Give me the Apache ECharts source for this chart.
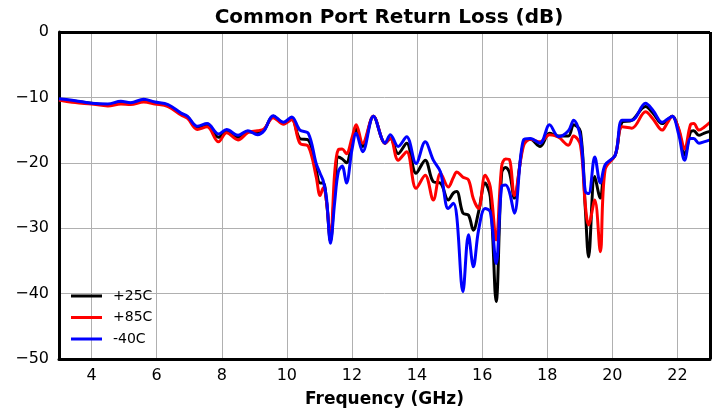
<!DOCTYPE html>
<html>
<head>
<meta charset="utf-8">
<script src="https://cdn.jsdelivr.net/npm/echarts@6/dist/echarts.min.js"></script>
<style>
html,body{margin:0;padding:0;background:#fff;}
#chart{width:718px;height:414px;}
</style>
</head>
<body>
<div id="chart"></div>
<script>
// Frequency grid (GHz)
var freq = [3.0, 3.5, 4.0, 4.5, 4.9, 5.2, 5.6, 5.95, 6.35, 6.75, 6.95, 7.25, 7.55, 7.9, 8.15, 8.5, 8.8, 9.1, 9.3, 9.58, 9.9, 10.15, 10.4, 10.66, 10.9, 11.02, 11.12, 11.22, 11.34, 11.47, 11.58, 11.7, 11.83, 12.0, 12.13, 12.33, 12.66, 13.02, 13.18, 13.42, 13.68, 13.97, 14.25, 14.5, 14.72, 14.96, 15.12, 15.22, 15.41, 15.58, 15.73, 15.89, 16.09, 16.25, 16.43, 16.6, 16.72, 16.84, 16.99, 17.27, 17.48, 17.78, 18.07, 18.35, 18.65, 18.81, 19.02, 19.17, 19.27, 19.46, 19.63, 19.78, 20.09, 20.3, 20.6, 21.02, 21.25, 21.53, 21.7, 21.84, 22.04, 22.22, 22.4, 22.5, 22.66, 22.81, 23.0];

// +25C (black)
var rl25 = [-10.3, -10.6, -10.9, -11.1, -10.8, -10.9, -10.5, -10.8, -11.3, -12.5, -13.0, -14.6, -14.2, -16.1, -15.1, -16.1, -15.2, -15.5, -15.0, -12.9, -13.9, -13.3, -16.3, -16.5, -21.1, -23.1, -23.1, -26.0, -32.0, -24.0, -19.1, -19.4, -20.0, -17.0, -14.8, -17.5, -12.9, -17.0, -16.3, -18.6, -17.0, -21.6, -19.6, -22.9, -23.1, -25.7, -24.6, -24.4, -27.7, -28.0, -30.3, -27.5, -23.1, -25.2, -41.2, -21.5, -20.7, -21.5, -25.4, -17.0, -16.4, -17.5, -15.5, -15.9, -15.9, -14.2, -15.2, -27.0, -34.4, -22.1, -25.4, -20.6, -18.8, -13.8, -13.5, -11.4, -12.4, -14.0, -13.4, -12.9, -15.0, -18.8, -15.3, -15.1, -15.8, -15.5, -15.2];

// +85C (red)
var rl85 = [-10.4, -10.8, -11.0, -11.3, -11.0, -11.1, -10.7, -11.0, -11.4, -12.7, -13.2, -14.9, -14.5, -16.8, -15.4, -16.5, -15.4, -15.1, -14.8, -13.1, -14.1, -13.4, -17.0, -17.5, -22.1, -25.0, -23.8, -26.0, -31.8, -21.5, -18.0, -17.9, -18.6, -16.2, -14.2, -17.0, -12.9, -17.0, -16.2, -19.6, -18.3, -23.9, -21.9, -25.7, -21.6, -23.7, -22.2, -21.4, -22.2, -22.6, -25.5, -27.0, -21.9, -23.7, -31.8, -20.5, -19.4, -19.5, -25.0, -17.4, -16.4, -16.8, -15.7, -16.1, -17.3, -15.9, -17.3, -26.5, -29.5, -25.7, -33.6, -21.0, -18.8, -14.5, -14.7, -12.2, -13.3, -15.0, -13.8, -12.9, -14.8, -17.9, -14.2, -14.0, -15.0, -14.6, -13.8];

// -40C (blue)
var rlm40 = [-10.2, -10.5, -10.9, -11.0, -10.6, -10.8, -10.3, -10.7, -11.1, -12.4, -12.9, -14.4, -14.0, -15.6, -14.9, -15.8, -15.1, -15.7, -15.1, -12.8, -13.8, -13.0, -15.0, -15.5, -20.1, -21.6, -22.8, -25.5, -32.3, -26.0, -21.4, -20.5, -23.1, -18.0, -15.5, -18.3, -12.9, -17.0, -15.7, -17.5, -16.0, -20.1, -16.8, -19.6, -21.4, -27.0, -26.2, -28.2, -39.7, -31.0, -35.9, -30.3, -27.0, -27.5, -35.4, -23.6, -23.4, -24.5, -27.7, -16.5, -16.3, -17.0, -14.2, -16.0, -15.1, -13.5, -16.0, -24.4, -24.7, -19.1, -23.1, -20.3, -18.8, -13.5, -13.5, -10.9, -12.0, -13.8, -13.3, -12.9, -15.7, -19.6, -16.3, -16.3, -17.0, -16.8, -16.5];

var seriesNames = ['+25C', '+85C', '-40C'];
var seriesColors = ['#000000', '#ff0000', '#0000ff'];
var seriesValues = [rl25, rl85, rlm40];
var xTicks = [4, 6, 8, 10, 12, 14, 16, 18, 20, 22];

var FONT = 'DejaVu Sans';

function pairs(vals) {
  return freq.map(function (f, i) { return [f, vals[i]]; });
}

var chart = echarts.init(document.getElementById('chart'), null, {renderer: 'canvas'});
chart.setOption({
  animation: false,
  backgroundColor: '#ffffff',
  title: {
    text: 'Common Port Return Loss (dB)',
    left: 384, textAlign: 'center', top: 3,
    textStyle: {fontFamily: FONT, fontWeight: 'bold', fontSize: 20, color: '#000'}
  },
  grid: {left: 59, right: 8, top: 32, bottom: 55, containLabel: false},
  legend: {
    left: 66, top: 284, orient: 'vertical',
    itemWidth: 31, itemHeight: 3, itemGap: 7.5,
    icon: 'rect',
    data: seriesNames,
    textStyle: {fontFamily: FONT, fontSize: 14, color: '#000', lineHeight: 14, padding: [0, 0, 0, 6]}
  },
  xAxis: {
    type: 'value', min: 3, max: 23,
    name: 'Frequency (GHz)', nameLocation: 'middle', nameGap: 32,
    nameTextStyle: {fontFamily: FONT, fontWeight: 'bold', fontSize: 17, color: '#000'},
    axisLine: {show: true, onZero: false, lineStyle: {color: '#000', width: 3}},
    axisTick: {show: false, customValues: xTicks},
    axisLabel: {customValues: xTicks, fontFamily: FONT, fontSize: 16, color: '#000', margin: 9},
    splitLine: {show: true, lineStyle: {color: '#b0b0b0', width: 1}}
  },
  yAxis: {
    type: 'value', min: -50, max: 0, interval: 10,
    axisLine: {show: true, onZero: false, lineStyle: {color: '#000', width: 3}},
    axisTick: {show: false},
    axisLabel: {
      fontFamily: FONT, fontSize: 16, color: '#000', margin: 10,
      formatter: function (v) { return String(v).replace('-', '\u2212'); }
    },
    splitLine: {show: true, lineStyle: {color: '#b0b0b0', width: 1}}
  },
  series: seriesNames.map(function (n, i) {
    return {
      name: n, type: 'line', data: pairs(seriesValues[i]),
      smooth: 0.35, showSymbol: false, symbol: 'none',
      lineStyle: {color: seriesColors[i], width: 3},
      itemStyle: {color: seriesColors[i]},
      z: 2 + i
    };
  }).concat([{
    // frame (top/right spines)
    type: 'line', data: [], silent: true,
    markLine: {
      silent: true, symbol: 'none', animation: false,
      lineStyle: {color: '#000', width: 3, type: 'solid'},
      label: {show: false},
      data: [
        [{coord: [3, 0]}, {coord: [23, 0]}],
        [{coord: [23, 0]}, {coord: [23, -50]}]
      ]
    }
  }])
});
</script>
</body>
</html>
